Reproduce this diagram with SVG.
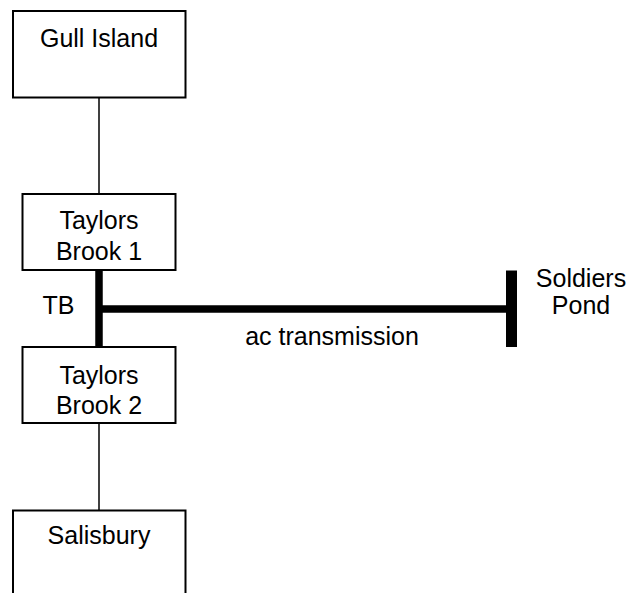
<svg xmlns="http://www.w3.org/2000/svg" width="634" height="593" viewBox="0 0 634 593">
  <style>
    .box { fill: #ffffff; stroke: #000000; stroke-width: 2; }
    .thin { stroke: #000000; stroke-width: 1.5; fill: none; }
    .bus { stroke: #000000; fill: none; }
    text { font-family: "Liberation Sans", Arial, sans-serif; font-size: 25px; fill: #000000; text-anchor: middle; }
  </style>
  <rect width="634" height="593" fill="#ffffff"/>

  <g id="connectors">
    <line class="thin" x1="99" y1="97.5" x2="99" y2="194"/>
    <line class="thin" x1="99" y1="423" x2="99" y2="510.5"/>
    <line class="bus" x1="99" y1="270" x2="99" y2="347" stroke-width="7.5"/>
    <line class="bus" x1="99" y1="309" x2="511" y2="309" stroke-width="7.5"/>
  </g>

  <g id="gull-island">
    <rect class="box" x="13" y="11" width="172.5" height="86.5"/>
    <text x="99" y="47">Gull Island</text>
  </g>

  <g id="taylors-brook-1">
    <rect class="box" x="22.5" y="194" width="153" height="76"/>
    <text x="99" y="228.5">Taylors</text>
    <text x="99" y="260">Brook 1</text>
  </g>

  <g id="tb-label">
    <text x="58.5" y="313.5">TB</text>
  </g>

  <g id="taylors-brook-2">
    <rect class="box" x="22.5" y="347" width="153" height="76"/>
    <text x="99" y="383.5">Taylors</text>
    <text x="99" y="413.5">Brook 2</text>
  </g>

  <g id="soldiers-pond">
    <line class="bus" x1="511.5" y1="270.5" x2="511.5" y2="347" stroke-width="11"/>
    <text x="581" y="286.5">Soldiers</text>
    <text x="581" y="313.5">Pond</text>
  </g>

  <g id="ac-transmission-label">
    <text x="332" y="345">ac transmission</text>
  </g>

  <g id="salisbury">
    <path class="box" d="M13,600 V510.5 H185.5 V600"/>
    <text x="99" y="543.5">Salisbury</text>
  </g>
</svg>
